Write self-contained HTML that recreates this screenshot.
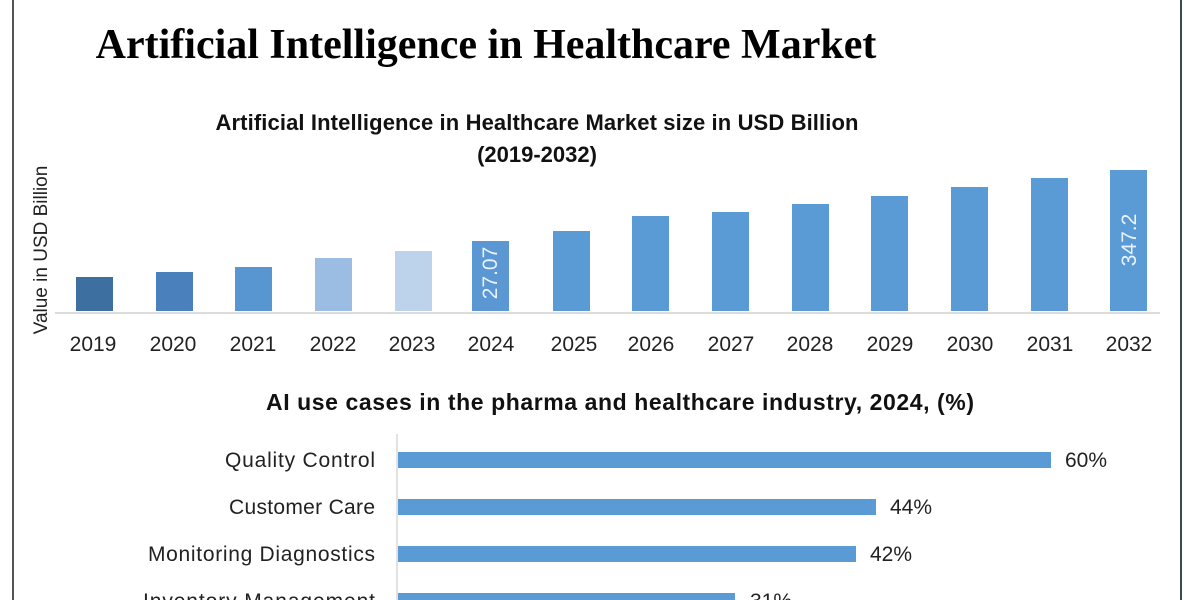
<!DOCTYPE html>
<html><head><meta charset="utf-8"><style>
html,body{margin:0;padding:0;background:#fff;}
body{width:1200px;height:600px;overflow:hidden;position:relative;}
</style></head><body>
<svg width="1200" height="600" xmlns="http://www.w3.org/2000/svg" style="position:absolute;left:0;top:0">
<rect width="1200" height="600" fill="#fff"/>
<line x1="13" y1="0" x2="13" y2="600" stroke="#555" stroke-width="2"/>
<line x1="1181" y1="0" x2="1181" y2="600" stroke="#3a4a55" stroke-width="2"/>
<text x="486" y="58" text-anchor="middle" font-family="Liberation Serif,serif" font-weight="bold" font-size="42" fill="#000">Artificial Intelligence in Healthcare Market</text>
<g font-family="Liberation Sans,sans-serif" font-weight="bold" fill="#111" text-anchor="middle">
<text x="537" y="130" font-size="22" textLength="643">Artificial Intelligence in Healthcare Market size in USD Billion</text>
<text x="537" y="162" font-size="22">(2019-2032)</text>
<text x="620" y="410" font-size="23" textLength="708">AI use cases in the pharma and healthcare industry, 2024, (%)</text>
</g>
<text transform="translate(47,250) rotate(-90)" text-anchor="middle" font-family="Liberation Sans,sans-serif" font-size="19" fill="#222">Value in USD Billion</text>
<line x1="55" y1="313" x2="1160" y2="313" stroke="#d0d0d0" stroke-width="1.5"/>
<g>
<rect x="76" y="277" width="37" height="34" fill="#3e6fa1"/>
<rect x="156" y="272" width="37" height="39" fill="#4a80bb"/>
<rect x="235" y="267" width="37" height="44" fill="#5896d2"/>
<rect x="315" y="258" width="37" height="53" fill="#9cbde3"/>
<rect x="395" y="251" width="37" height="60" fill="#bdd3ec"/>
<rect x="472" y="241" width="37" height="70" fill="#5b97d2"/>
<rect x="553" y="231" width="37" height="80" fill="#5b9bd5"/>
<rect x="632" y="216" width="37" height="95" fill="#5b9bd5"/>
<rect x="712" y="212" width="37" height="99" fill="#5b9bd5"/>
<rect x="792" y="204" width="37" height="107" fill="#5b9bd5"/>
<rect x="871" y="196" width="37" height="115" fill="#5b9bd5"/>
<rect x="951" y="187" width="37" height="124" fill="#5b9bd5"/>
<rect x="1031" y="178" width="37" height="133" fill="#5b9bd5"/>
<rect x="1110" y="170" width="37" height="141" fill="#5b9bd5"/>
</g>
<text transform="translate(497,273) rotate(-90)" text-anchor="middle" font-family="Liberation Sans,sans-serif" font-size="21" fill="#e8f2ff">27.07</text>
<text transform="translate(1136,240) rotate(-90)" text-anchor="middle" font-family="Liberation Sans,sans-serif" font-size="21" fill="#e8f2ff">347.2</text>
<g font-family="Liberation Sans,sans-serif" font-size="21" fill="#222" text-anchor="middle">
<text x="93" y="351">2019</text><text x="173" y="351">2020</text><text x="253" y="351">2021</text>
<text x="333" y="351">2022</text><text x="412" y="351">2023</text><text x="491" y="351">2024</text>
<text x="574" y="351">2025</text><text x="651" y="351">2026</text><text x="731" y="351">2027</text>
<text x="810" y="351">2028</text><text x="890" y="351">2029</text><text x="970" y="351">2030</text>
<text x="1050" y="351">2031</text><text x="1129" y="351">2032</text>
</g>
<line x1="397" y1="434" x2="397" y2="600" stroke="#d8d8d8" stroke-width="1.5"/>
<rect x="398" y="452" width="653" height="16" fill="#5b9bd5"/>
<rect x="398" y="499" width="478" height="16" fill="#5b9bd5"/>
<rect x="398" y="546" width="458" height="16" fill="#5b9bd5"/>
<rect x="398" y="593" width="337" height="16" fill="#5b9bd5"/>
<g font-family="Liberation Sans,sans-serif" font-size="21" fill="#222">
<text x="375" y="467" text-anchor="end" textLength="150">Quality Control</text>
<text x="375" y="514" text-anchor="end" textLength="146">Customer Care</text>
<text x="375" y="561" text-anchor="end" textLength="227">Monitoring Diagnostics</text>
<text x="375" y="608" text-anchor="end" textLength="232">Inventory Management</text>
<text x="1065" y="467">60%</text>
<text x="890" y="514">44%</text>
<text x="870" y="561">42%</text>
<text x="750" y="608">31%</text>
</g>
</svg>
</body></html>
